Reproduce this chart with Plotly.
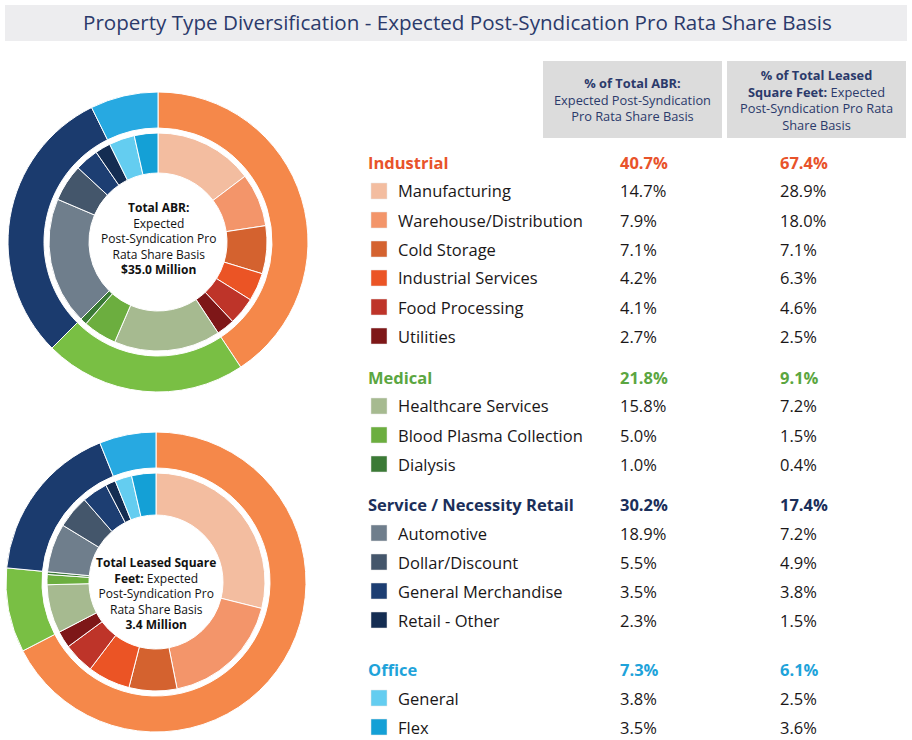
import plotly.graph_objects as go

# ---------------- data ----------------
categories = ["Industrial", "Medical", "Service / Necessity Retail", "Office"]
cat_abr = [40.7, 21.8, 30.2, 7.3]
cat_sqft = [67.4, 9.1, 17.4, 6.1]

subcats = ["Manufacturing", "Warehouse/Distribution", "Cold Storage", "Industrial Services",
           "Food Processing", "Utilities",
           "Healthcare Services", "Blood Plasma Collection", "Dialysis",
           "Automotive", "Dollar/Discount", "General Merchandise", "Retail - Other",
           "General", "Flex"]
sub_parent = [0, 0, 0, 0, 0, 0, 1, 1, 1, 2, 2, 2, 2, 3, 3]
sub_abr = [14.7, 7.9, 7.1, 4.2, 4.1, 2.7, 15.8, 5.0, 1.0, 18.9, 5.5, 3.5, 2.3, 3.8, 3.5]
sub_sqft = [28.9, 18.0, 7.1, 6.3, 4.6, 2.5, 7.2, 1.5, 0.4, 7.2, 4.9, 3.8, 1.5, 2.5, 3.6]

title_text = "Property Type Diversification - Expected Post-Syndication Pro Rata Share Basis"
col_headers = ["<b>% of Total ABR:</b><br>Expected Post-Syndication<br>Pro Rata Share Basis",
               "<b>% of Total Leased</b><br><b>Square Feet:</b> Expected<br>Post-Syndication Pro Rata<br>Share Basis"]
center_texts = ["<b>Total ABR:</b><br>Expected<br>Post-Syndication Pro<br>Rata Share Basis<br><b>$35.0 Million</b>",
                "<b>Total Leased Square</b><br><b>Feet:</b> Expected<br>Post-Syndication Pro<br>Rata Share Basis<br><b>3.4 Million</b>"]

# ---------------- styles ----------------
cat_ring_colors = ["#F5884A", "#79BF44", "#1B3B6E", "#27A9E1"]
cat_text_colors = ["#E8532A", "#5BA641", "#1B2F5A", "#1FA3DA"]
sub_colors = ["#F3BDA0", "#F3956A", "#D4622F", "#EB5425", "#BE3429", "#7E1718",
              "#A6BA90", "#6CAE3F", "#3B7A36",
              "#6F7E8C", "#44566B", "#1D3E72", "#142D52",
              "#64CDF0", "#14A0D6"]

W, H = 912, 740
FONT = "Open Sans"
TEXT = "#1A1718"
NAVY = "#2B3A6B"


def px(x):
    return x / W


def py(y):
    return 1 - y / H


def dom(cx, cy, r):
    return dict(x=[px(cx - r), px(cx + r)], y=[py(cy + r), py(cy - r)])


fig = go.Figure()

donuts = [
    dict(cx=158, cy=242, cat=cat_abr, sub=sub_abr),
    dict(cx=156, cy=582, cat=cat_sqft, sub=sub_sqft),
]
inner_hole_r = [69, 67]
for i, d in enumerate(donuts):
    fig.add_trace(go.Pie(
        labels=categories, values=d["cat"], sort=False, direction="clockwise",
        hole=114 / 150, domain=dom(d["cx"], d["cy"], 150),
        marker=dict(colors=cat_ring_colors, line=dict(color="white", width=1)),
        textinfo="none", hoverinfo="label+value", showlegend=False))
    fig.add_trace(go.Pie(
        labels=subcats, values=d["sub"], sort=False, direction="clockwise",
        hole=inner_hole_r[i] / 109, domain=dom(d["cx"], d["cy"], 109),
        marker=dict(colors=sub_colors, line=dict(color="white", width=1)),
        textinfo="none", hoverinfo="label+value", showlegend=False))

shapes = []
annotations = []

# title bar
shapes.append(dict(type="rect", xref="paper", yref="paper", x0=px(5), x1=px(907), y0=py(41), y1=py(5),
                   fillcolor="#EDEDEF", line=dict(width=0), layer="below"))
annotations.append(dict(text=title_text, x=px(457), y=py(22), xref="paper", yref="paper",
                        showarrow=False, xanchor="center", yanchor="middle",
                        font=dict(family=FONT, size=20.6, color=NAVY)))

# column header boxes
boxes = [(543, 722), (727, 906)]
for (x0, x1), txt in zip(boxes, col_headers):
    shapes.append(dict(type="rect", xref="paper", yref="paper", x0=px(x0), x1=px(x1), y0=py(138), y1=py(61),
                       fillcolor="#DCDCDC", line=dict(width=0), layer="below"))
    annotations.append(dict(text=txt, x=px((x0 + x1) / 2), y=py(100), xref="paper", yref="paper",
                            showarrow=False, xanchor="center", yanchor="middle", align="center",
                            font=dict(family=FONT, size=12.8, color=NAVY)))

# donut center texts
for d, txt, cyoff in zip(donuts, center_texts, [-4, 11]):
    annotations.append(dict(text=txt, x=px(d["cx"]), y=py(d["cy"] + cyoff), xref="paper", yref="paper",
                            showarrow=False, xanchor="center", yanchor="middle", align="center",
                            font=dict(family=FONT, size=12, color="#111111")))

# table
group_y = [162, 377, 504, 669]
ROW = 29
X_CAT, X_SQ, X_LAB, X_V1, X_V2 = 366, 371, 396, 618, 778
FS = 16.5
for g, cat in enumerate(categories):
    y = group_y[g]
    c = cat_text_colors[g]
    annotations.append(dict(text=f"<b>{cat}</b>", x=px(X_CAT), y=py(y), xref="paper", yref="paper",
                            showarrow=False, xanchor="left", yanchor="middle",
                            font=dict(family=FONT, size=FS, color=c)))
    annotations.append(dict(text=f"<b>{cat_abr[g]:.1f}%</b>", x=px(X_V1), y=py(y), xref="paper", yref="paper",
                            showarrow=False, xanchor="left", yanchor="middle",
                            font=dict(family=FONT, size=FS, color=c)))
    annotations.append(dict(text=f"<b>{cat_sqft[g]:.1f}%</b>", x=px(X_V2), y=py(y), xref="paper", yref="paper",
                            showarrow=False, xanchor="left", yanchor="middle",
                            font=dict(family=FONT, size=FS, color=c)))
    k = 0
    for j, name in enumerate(subcats):
        if sub_parent[j] != g:
            continue
        k += 1
        yy = y + k * ROW
        shapes.append(dict(type="rect", xref="paper", yref="paper", x0=px(X_SQ), x1=px(X_SQ + 16),
                           y0=py(yy + 8), y1=py(yy - 8), fillcolor=sub_colors[j],
                           line=dict(color="#E6E6E6", width=0.5)))
        annotations.append(dict(text=name, x=px(X_LAB), y=py(yy), xref="paper", yref="paper",
                                showarrow=False, xanchor="left", yanchor="middle",
                                font=dict(family=FONT, size=FS, color=TEXT)))
        annotations.append(dict(text=f"{sub_abr[j]:.1f}%", x=px(X_V1), y=py(yy), xref="paper", yref="paper",
                                showarrow=False, xanchor="left", yanchor="middle",
                                font=dict(family=FONT, size=FS, color=TEXT)))
        annotations.append(dict(text=f"{sub_sqft[j]:.1f}%", x=px(X_V2), y=py(yy), xref="paper", yref="paper",
                                showarrow=False, xanchor="left", yanchor="middle",
                                font=dict(family=FONT, size=FS, color=TEXT)))

fig.update_layout(width=W, height=H, margin=dict(l=0, r=0, t=0, b=0),
                  paper_bgcolor="white", plot_bgcolor="white",
                  shapes=shapes, annotations=annotations,
                  font=dict(family=FONT))
fig.write_html("out.html")
